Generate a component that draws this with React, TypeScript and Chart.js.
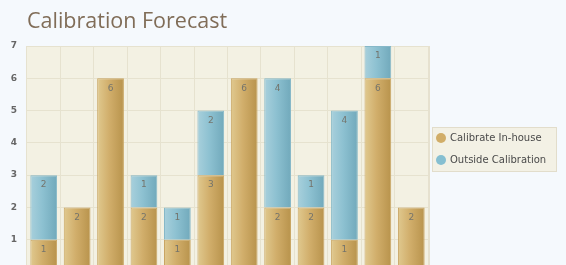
import React, { useEffect, useRef } from "react";
import { Chart, registerables } from "chart.js";

Chart.register(...registerables);

const categories = ["1", "2", "3", "4", "5", "6", "7", "8", "9", "10", "11", "12"];
const inHouse = [1, 2, 6, 2, 1, 3, 6, 2, 2, 1, 6, 2];
const outside = [2, 0, 0, 1, 1, 2, 0, 4, 1, 4, 1, 0];
const yTicks = [0, 1, 2, 3, 4, 5, 6, 7];
const seriesNames = ["Calibrate In-house", "Outside Calibration"];
const titleText = "Calibration Forecast";

const W = 566;
const H = 300;

function makeGradient(c: any, stops: string[]) {
  const chart = c.chart;
  const xs = chart.scales && chart.scales.x;
  if (!chart.chartArea || !xs || c.dataIndex === undefined) return stops[1];
  const cx = xs.getPixelForValue(c.dataIndex);
  const w = (xs.width / categories.length) * 0.8;
  const g = chart.ctx.createLinearGradient(cx - w / 2, 0, cx + w / 2, 0);
  g.addColorStop(0, stops[0]);
  g.addColorStop(0.45, stops[1]);
  g.addColorStop(1, stops[2]);
  return g;
}

const bgPlugin = {
  id: "bgPlugin",
  beforeDraw(chart: any) {
    const { ctx, chartArea } = chart;
    ctx.save();
    ctx.fillStyle = "#f5f9fd";
    ctx.fillRect(0, 0, chart.width, chart.height);
    ctx.fillStyle = "#f3f1e3";
    ctx.fillRect(chartArea.left, chartArea.top, chartArea.right - chartArea.left, chartArea.bottom - chartArea.top);
    // title
    ctx.font = "21.5px 'Open Sans'";
    ctx.fillStyle = "#806d58";
    ctx.textBaseline = "alphabetic";
    ctx.textAlign = "left";
    ctx.fillText(titleText, 27, 28);
    ctx.restore();
  },
  afterDraw(chart: any) {
    const { ctx, chartArea } = chart;
    ctx.save();
    ctx.strokeStyle = "#e6e1cf";
    ctx.lineWidth = 2;
    ctx.beginPath();
    ctx.moveTo(chartArea.right + 1, chartArea.top);
    ctx.lineTo(chartArea.right + 1, chartArea.bottom);
    ctx.stroke();
    // legend
    const lx = 432, ly = 127, lw = 124, lh = 44;
    ctx.fillStyle = "#f3f1e5";
    ctx.fillRect(lx, ly, lw, lh);
    ctx.strokeStyle = "#e2ddcb";
    ctx.lineWidth = 1;
    ctx.strokeRect(lx + 0.5, ly + 0.5, lw, lh);
    const colors = ["#d1ad68", "#86bfd1"];
    ctx.font = "10px 'DejaVu Sans'";
    ctx.textBaseline = "middle";
    ctx.textAlign = "left";
    seriesNames.forEach((n, i) => {
      const y = ly + 11 + i * 22;
      ctx.fillStyle = colors[i];
      ctx.beginPath();
      ctx.arc(lx + 9, y, 5, 0, Math.PI * 2);
      ctx.fill();
      ctx.fillStyle = "#4a4a4a";
      ctx.fillText(n, lx + 18, y);
    });
    ctx.restore();
  },
  afterDatasetsDraw(chart: any) {
    const { ctx } = chart;
    ctx.save();
    ctx.font = "9px 'DejaVu Sans'";
    ctx.fillStyle = "#74746c";
    ctx.textAlign = "center";
    ctx.textBaseline = "middle";
    chart.data.datasets.forEach((ds: any, di: number) => {
      const meta = chart.getDatasetMeta(di);
      meta.data.forEach((el: any, i: number) => {
        const v = ds.data[i];
        if (!v) return;
        ctx.fillText(String(v), el.x, el.y + 10);
      });
    });
    ctx.restore();
  },
};

export default function App() {
  const ref = useRef<HTMLCanvasElement | null>(null);
  useEffect(() => {
    if (!ref.current) return;
    const chart = new Chart(ref.current, {
      type: "bar",
      data: {
        labels: categories,
        datasets: [
          {
            label: seriesNames[0],
            data: inHouse,
            backgroundColor: (c: any) => makeGradient(c, ["#e0c98f", "#d1ae6b", "#b8934c"]),
            borderColor: "#c9a562",
            borderWidth: 1,
            categoryPercentage: 1,
            barPercentage: 0.8,
          },
          {
            label: seriesNames[1],
            data: outside,
            backgroundColor: (c: any) => makeGradient(c, ["#a8d0dc", "#8dc1d1", "#71a9bb"]),
            borderColor: "#86b8c8",
            borderWidth: 1,
            categoryPercentage: 1,
            barPercentage: 0.8,
          },
        ],
      },
      options: {
        responsive: false,
        animation: false,
        layout: { padding: { left: 0, top: 46, right: W - 428, bottom: H - 272 } },
        plugins: { legend: { display: false }, title: { display: false }, tooltip: { enabled: false } },
        scales: {
          x: {
            stacked: true,
            ticks: { display: false },
            grid: { color: "#e6e2cf", drawTicks: false, offset: true },
            border: { display: false },
          },
          y: {
            stacked: true,
            min: 0,
            max: 7,
            afterFit: (s: any) => {
              s.width = 27;
            },
            afterBuildTicks: (s: any) => {
              s.ticks = yTicks.map((v) => ({ value: v }));
            },
            ticks: {
              padding: 10,
              color: "#666666",
              font: { family: "'DejaVu Sans'", size: 9, weight: "bold" },
            },
            grid: { color: "#e6e2cf", drawTicks: false },
            border: { display: false },
          },
        },
      },
      plugins: [bgPlugin],
    } as any);
    return () => chart.destroy();
  }, []);
  return (
    <div style={{ position: "absolute", left: 0, top: 0, width: W, height: H, background: "#f5f9fd" }}>
      <canvas ref={ref} width={W} height={H} style={{ display: "block" }} />
    </div>
  );
}
